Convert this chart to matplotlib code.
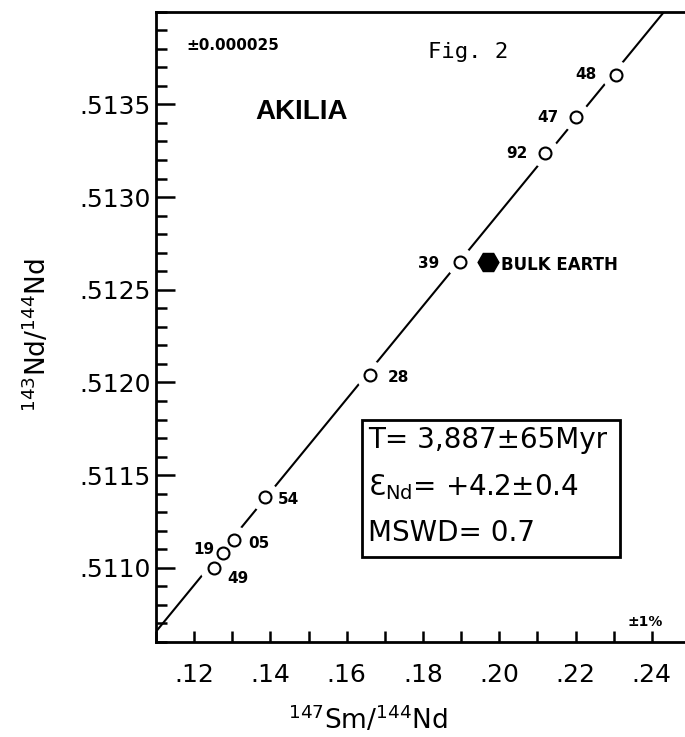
"""Sm-Nd whole-rock isochron for Akilia (Fig. 2), redrawn with matplotlib."""
import numpy as np
import matplotlib

matplotlib.use("Agg")
import matplotlib.pyplot as plt
from matplotlib.patches import Rectangle
from matplotlib.ticker import FuncFormatter, MultipleLocator

# --- data ---------------------------------------------------------------------
sample_ids = ["49", "19", "05", "54", "28", "39", "92", "47", "48"]
sm_nd = [0.1252, 0.1275, 0.1305, 0.1385, 0.1661, 0.1897, 0.2120, 0.2202, 0.2305]
nd_nd = [0.51100, 0.51108, 0.51115, 0.51138, 0.51204, 0.51265, 0.51324, 0.51343, 0.51366]

bulk_earth_sm_nd = 0.1970
bulk_earth_nd_nd = 0.51265

# isochron fit
iso_slope = 0.0251
iso_intercept = 0.507895

x_ticks = [0.12, 0.14, 0.16, 0.18, 0.20, 0.22, 0.24]
y_ticks = [0.5110, 0.5115, 0.5120, 0.5125, 0.5130, 0.5135]
x_limits = (0.11, 0.25)
y_limits = (0.5106, 0.5140)

# label placement around each circle (pixels, y up)
label_offsets = [(24, -11), (-19, 4), (25, -3), (24, -2), (28, -2),
                 (-31, -2), (-28, -1), (-28, 0), (-30, 0)]

W, H = 685, 737
fig = plt.figure(figsize=(W / 100, H / 100), dpi=100)
# axes run a little past the right edge of the page, as in the scan
ax = fig.add_axes([156 / W, 1 - 642 / H, 534 / W, 630.3 / H])
ax.set_xlim(*x_limits)
ax.set_ylim(*y_limits)

for side in ("left", "top", "bottom"):
    ax.spines[side].set_linewidth(2.0)
ax.spines["right"].set_visible(False)

ax.set_xticks(x_ticks)
ax.set_yticks(y_ticks)
ax.xaxis.set_minor_locator(MultipleLocator(0.01))
ax.yaxis.set_minor_locator(MultipleLocator(0.0001))
ax.xaxis.set_major_formatter(FuncFormatter(lambda v, _: f"{v:.2f}".lstrip("0")))
ax.yaxis.set_major_formatter(FuncFormatter(lambda v, _: f"{v:.4f}".lstrip("0")))

ax.tick_params(axis="both", which="both", direction="in", width=1.8, colors="black")
ax.tick_params(axis="y", which="major", length=14, pad=4, labelsize=18)
ax.tick_params(axis="y", which="minor", length=8)
ax.tick_params(axis="x", which="both", length=8)
ax.tick_params(axis="x", which="major", pad=15, labelsize=18)

# isochron
xs = np.array(x_limits)
ax.plot(xs, iso_intercept + iso_slope * xs, color="black", lw=1.5, zorder=2)

# white halo breaks the line around each circle
ax.plot(sm_nd, nd_nd, "o", ms=21, mfc="white", mec="none", zorder=3)
ax.plot(sm_nd, nd_nd, "o", ms=8.6, mfc="white", mec="black", mew=1.5, zorder=4)

for sid, x, y, off in zip(sample_ids, sm_nd, nd_nd, label_offsets):
    ax.annotate(sid, (x, y), xytext=off, textcoords="offset pixels",
                ha="center", va="center", fontsize=11, fontweight="bold", zorder=5)

ax.plot(bulk_earth_sm_nd, bulk_earth_nd_nd, "H", ms=15, color="black", zorder=4)
ax.annotate("BULK EARTH", (bulk_earth_sm_nd, bulk_earth_nd_nd), xytext=(13, -3),
            textcoords="offset pixels", ha="left", va="center",
            fontsize=12, fontweight="bold")

# corner notes
ax.text(0.144, 0.947, "±0.000025", transform=ax.transAxes, ha="center", va="center",
        fontsize=11, fontweight="bold")
ax.text(0.584, 0.936, "Fig. 2", transform=ax.transAxes, ha="center", va="center",
        fontsize=16, family="DejaVu Sans Mono")
ax.text(0.273, 0.841, "AKILIA", transform=ax.transAxes, ha="center", va="center",
        fontsize=20, fontweight="bold", family="Liberation Sans")
ax.text(0.916, 0.032, "±1%", transform=ax.transAxes, ha="center", va="center",
        fontsize=10, fontweight="bold")

# result box
ax.add_patch(Rectangle((0.386, 0.135), 0.483, 0.217, transform=ax.transAxes,
                       fill=False, lw=2.0, color="black", zorder=5))
box_lines = ["T= 3,887±65Myr", r"Ɛ$_{\mathregular{Nd}}$= +4.2±0.4", "MSWD= 0.7"]
for txt, yy in zip(box_lines, (0.3205, 0.246, 0.173)):
    ax.text(0.397, yy, txt, transform=ax.transAxes, ha="left", va="center", fontsize=20)

# axis titles
fig.text(37 / W, 1 - 335 / H, r"$^{143}$Nd/$^{144}$Nd", rotation=90,
         ha="center", va="center", fontsize=19)
fig.text(368 / W, 1 - 720 / H, r"$^{147}$Sm/$^{144}$Nd",
         ha="center", va="center", fontsize=19)

fig.savefig("out.png", dpi=100)
plt.close(fig)
